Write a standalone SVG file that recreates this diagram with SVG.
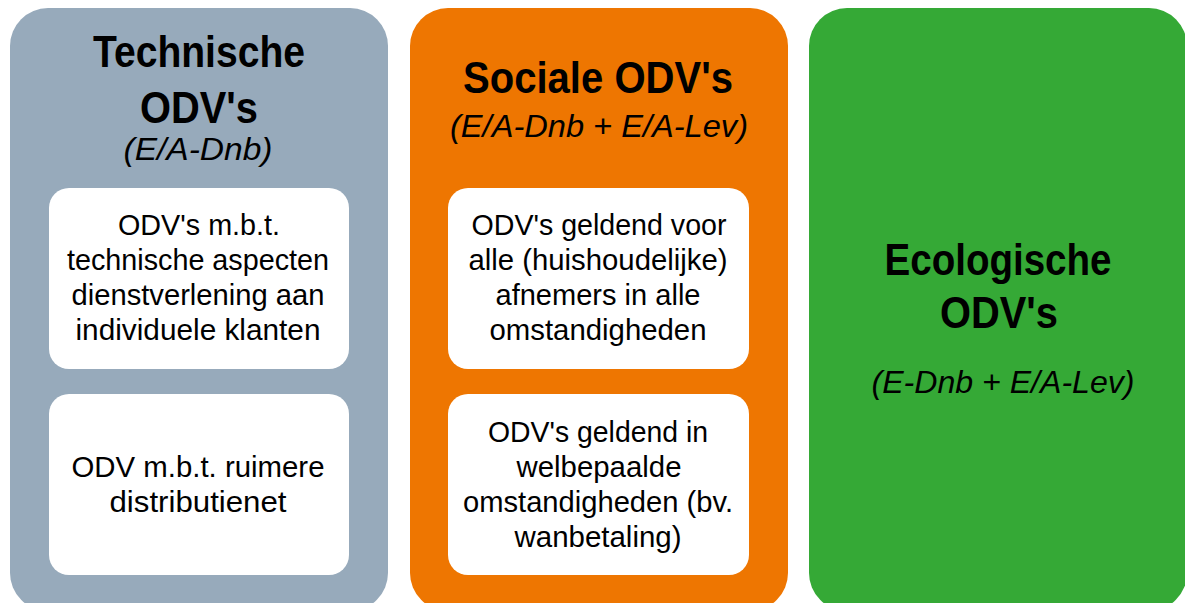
<svg xmlns="http://www.w3.org/2000/svg" width="1185" height="603" viewBox="0 0 1185 603">
  <style>
    text { font-family: "Liberation Sans", Arial, sans-serif; fill: #000; text-anchor: middle; }
    .title { font-size: 44px; font-weight: bold; }
    .sub { font-size: 32px; font-style: italic; }
    .body { font-size: 29px; }
    .inner { fill: #ffffff; }
  </style>
  <rect width="1185" height="603" fill="#ffffff"/>
  <g id="technische">
    <rect x="10" y="8" width="378" height="603" rx="38" fill="#97AABB"/>
    <text class="title" x="199" y="67" textLength="212" lengthAdjust="spacingAndGlyphs">Technische</text>
    <text class="title" x="199" y="123" textLength="118" lengthAdjust="spacingAndGlyphs">ODV's</text>
    <text class="sub" x="198" y="160" textLength="149" lengthAdjust="spacingAndGlyphs">(E/A-Dnb)</text>
  </g>
  <g id="technische-1">
    <rect class="inner" x="49" y="188" width="300" height="181" rx="20"/>
    <text class="body" x="199" y="235" textLength="162" lengthAdjust="spacingAndGlyphs">ODV's m.b.t.</text>
    <text class="body" x="198" y="270" textLength="262" lengthAdjust="spacingAndGlyphs">technische aspecten</text>
    <text class="body" x="198" y="305" textLength="253" lengthAdjust="spacingAndGlyphs">dienstverlening aan</text>
    <text class="body" x="198" y="340" textLength="245" lengthAdjust="spacingAndGlyphs">individuele klanten</text>
  </g>
  <g id="technische-2">
    <rect class="inner" x="49" y="394" width="300" height="181" rx="20"/>
    <text class="body" x="198" y="477" textLength="253" lengthAdjust="spacingAndGlyphs">ODV m.b.t. ruimere</text>
    <text class="body" x="198" y="512" textLength="177" lengthAdjust="spacingAndGlyphs">distributienet</text>
  </g>
  <g id="sociale">
    <rect x="410" y="8" width="378" height="603" rx="38" fill="#EE7601"/>
    <text class="title" x="598" y="93" textLength="270" lengthAdjust="spacingAndGlyphs">Sociale ODV's</text>
    <text class="sub" x="599" y="137" textLength="298" lengthAdjust="spacingAndGlyphs">(E/A-Dnb + E/A-Lev)</text>
  </g>
  <g id="sociale-1">
    <rect class="inner" x="448" y="188" width="301" height="181" rx="20"/>
    <text class="body" x="599" y="235" textLength="255" lengthAdjust="spacingAndGlyphs">ODV's geldend voor</text>
    <text class="body" x="598" y="270" textLength="259" lengthAdjust="spacingAndGlyphs">alle (huishoudelijke)</text>
    <text class="body" x="598" y="305" textLength="205" lengthAdjust="spacingAndGlyphs">afnemers in alle</text>
    <text class="body" x="598" y="340" textLength="217" lengthAdjust="spacingAndGlyphs">omstandigheden</text>
  </g>
  <g id="sociale-2">
    <rect class="inner" x="448" y="394" width="301" height="181" rx="20"/>
    <text class="body" x="598" y="442" textLength="220" lengthAdjust="spacingAndGlyphs">ODV's geldend in</text>
    <text class="body" x="599" y="477" textLength="165" lengthAdjust="spacingAndGlyphs">welbepaalde</text>
    <text class="body" x="598" y="512" textLength="270" lengthAdjust="spacingAndGlyphs">omstandigheden (bv.</text>
    <text class="body" x="598" y="547" textLength="167" lengthAdjust="spacingAndGlyphs">wanbetaling)</text>
  </g>
  <g id="ecologische">
    <rect x="809" y="8" width="378" height="603" rx="38" fill="#35A936"/>
    <text class="title" x="998" y="275" textLength="227" lengthAdjust="spacingAndGlyphs">Ecologische</text>
    <text class="title" x="999" y="328" textLength="118" lengthAdjust="spacingAndGlyphs">ODV's</text>
    <text class="sub" x="1003" y="393" textLength="263" lengthAdjust="spacingAndGlyphs">(E-Dnb + E/A-Lev)</text>
  </g>
  <g id="connectors"/>
</svg>
